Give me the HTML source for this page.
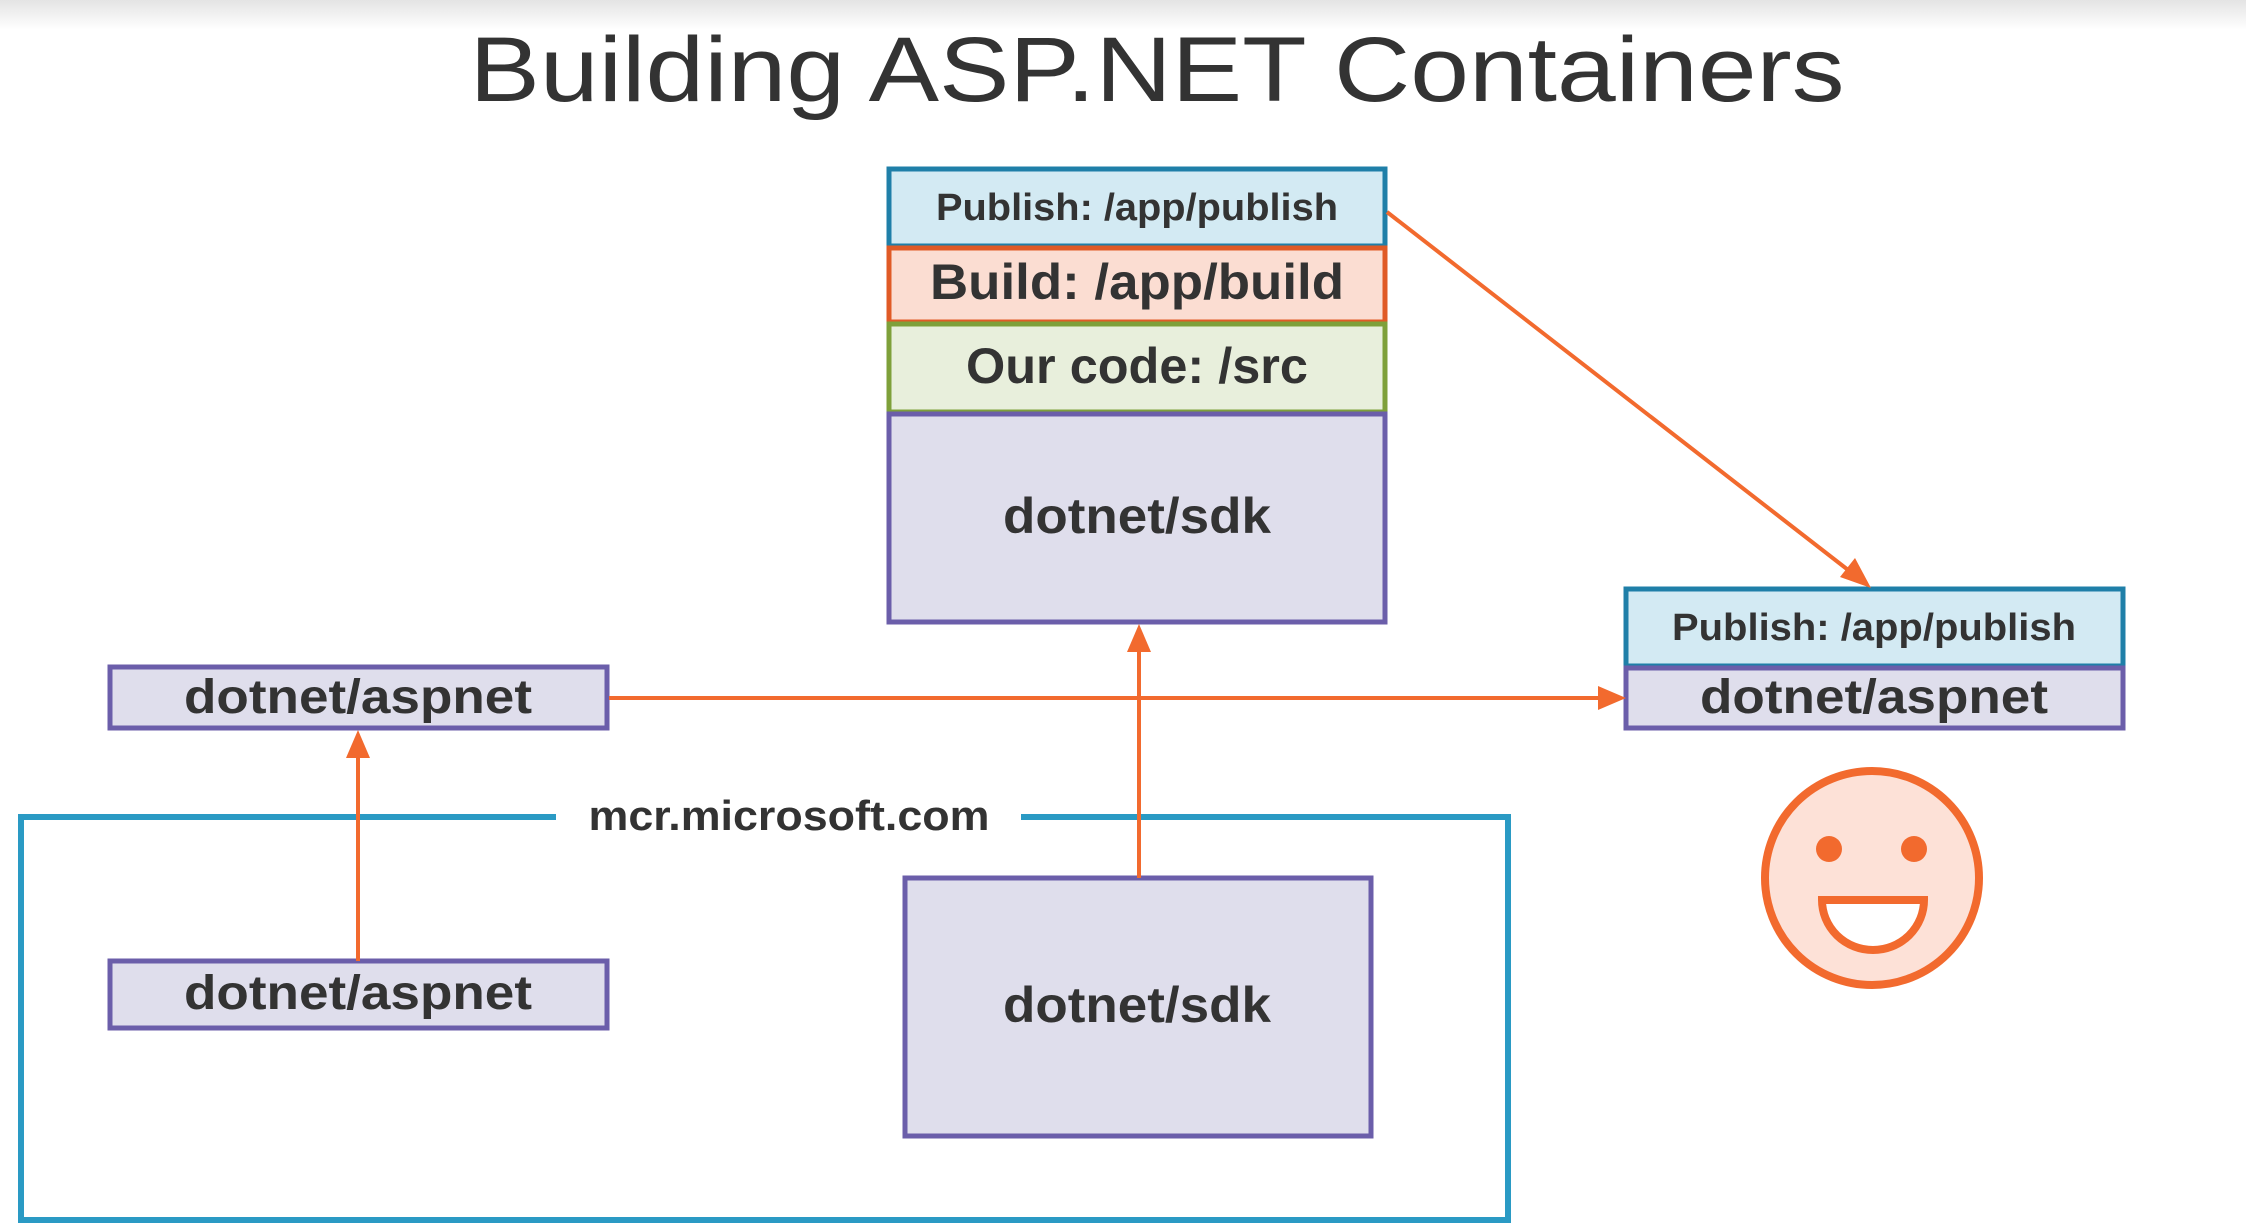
<!DOCTYPE html>
<html><head><style>
body{margin:0;width:2246px;height:1227px;overflow:hidden;background:#fff;font-family:"Liberation Sans",sans-serif;}
</style></head><body>
<svg width="2246" height="1227" viewBox="0 0 2246 1227" xmlns="http://www.w3.org/2000/svg">
<defs>
<linearGradient id="g" x1="0" y1="0" x2="0" y2="1"><stop offset="0" stop-color="#e4e4e4"/><stop offset="1" stop-color="#fff"/></linearGradient>
</defs>
<rect x="0" y="0" width="2246" height="30" fill="url(#g)"/>
<text x="1157" y="101" text-anchor="middle" font-size="92" fill="#333" textLength="1375" lengthAdjust="spacingAndGlyphs">Building ASP.NET Containers</text>

<path d="M556 817 H21 V1220 H1508 V817 H1021" fill="none" stroke="#2a9ac4" stroke-width="6"/>
<text x="789" y="830" text-anchor="middle" font-size="42" font-weight="bold" fill="#333" textLength="401" lengthAdjust="spacingAndGlyphs">mcr.microsoft.com</text>

<g font-weight="bold" fill="#333" text-anchor="middle">
<rect x="889" y="169" width="496" height="77" fill="#d3eaf3" stroke="#1f7fa8" stroke-width="5"/>
<text x="1137" y="220" font-size="38" textLength="402" lengthAdjust="spacingAndGlyphs">Publish: /app/publish</text>
<rect x="889" y="248" width="496" height="74" fill="#fbddd2" stroke="#e05a26" stroke-width="5"/>
<text x="1137" y="299" font-size="50" textLength="414" lengthAdjust="spacingAndGlyphs">Build: /app/build</text>
<rect x="889" y="324" width="496" height="88" fill="#e8efdc" stroke="#7ea03a" stroke-width="5"/>
<text x="1137" y="383" font-size="50" textLength="342" lengthAdjust="spacingAndGlyphs">Our code: /src</text>
<rect x="889" y="414" width="496" height="208" fill="#dfdeec" stroke="#6b5eaa" stroke-width="5"/>
<text x="1137" y="533" font-size="50" textLength="268" lengthAdjust="spacingAndGlyphs">dotnet/sdk</text>

<rect x="110" y="667" width="497" height="61" fill="#dfdeec" stroke="#6b5eaa" stroke-width="5"/>
<text x="358" y="713" font-size="48" textLength="348" lengthAdjust="spacingAndGlyphs">dotnet/aspnet</text>
<rect x="110" y="961" width="497" height="67" fill="#dfdeec" stroke="#6b5eaa" stroke-width="5"/>
<text x="358" y="1009" font-size="48" textLength="348" lengthAdjust="spacingAndGlyphs">dotnet/aspnet</text>

<rect x="905" y="878" width="466" height="258" fill="#dfdeec" stroke="#6b5eaa" stroke-width="5"/>
<text x="1137" y="1022" font-size="50" textLength="268" lengthAdjust="spacingAndGlyphs">dotnet/sdk</text>

<rect x="1626" y="589" width="497" height="77" fill="#d3eaf3" stroke="#1f7fa8" stroke-width="5"/>
<text x="1874" y="640" font-size="38" textLength="404" lengthAdjust="spacingAndGlyphs">Publish: /app/publish</text>
<rect x="1626" y="668" width="497" height="60" fill="#dfdeec" stroke="#6b5eaa" stroke-width="5"/>
<text x="1874" y="713" font-size="48" textLength="348" lengthAdjust="spacingAndGlyphs">dotnet/aspnet</text>
</g>

<g stroke="#f26a2e" stroke-width="4" fill="none">
<line x1="609" y1="698" x2="1600" y2="698"/>
<line x1="1139" y1="878" x2="1139" y2="650"/>
<line x1="358" y1="961" x2="358" y2="755"/>
<line x1="1387" y1="212" x2="1852" y2="573"/>
</g>
<g fill="#f26a2e">
<polygon points="1626,698 1598,686 1598,710"/>
<polygon points="1139,624 1127,652 1151,652"/>
<polygon points="358,730 346,758 370,758"/>
<polygon points="1871,588 1840,577 1855,558"/>
</g>

<circle cx="1872" cy="878" r="107" fill="#fde1d7" stroke="#f26a2e" stroke-width="8"/>
<circle cx="1829" cy="849" r="13" fill="#f26a2e"/>
<circle cx="1914" cy="849" r="13" fill="#f26a2e"/>
<path d="M1822 900 H1924 A51 50 0 0 1 1822 900 Z" fill="#fff" stroke="#f26a2e" stroke-width="8"/>
</svg>
</body></html>
